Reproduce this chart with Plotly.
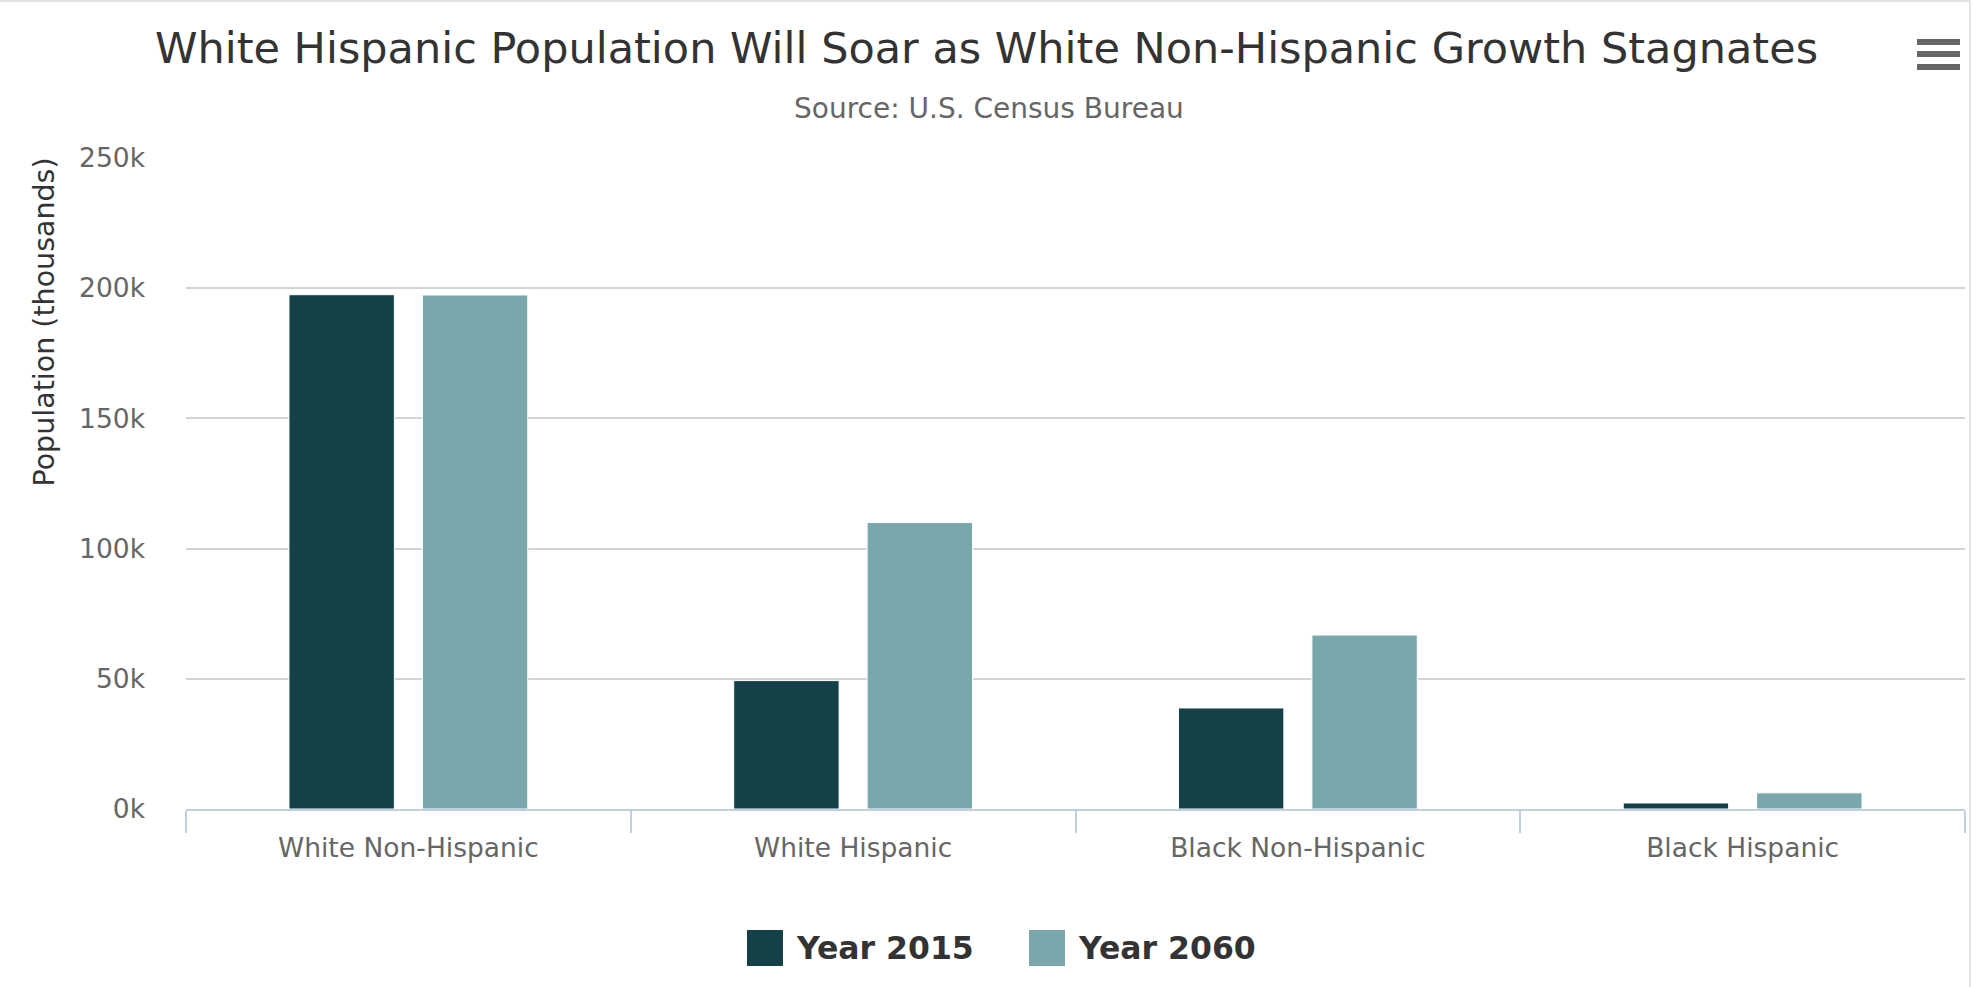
import plotly.graph_objects as go

# ---- data ----
categories = ["White Non-Hispanic", "White Hispanic", "Black Non-Hispanic", "Black Hispanic"]
series_names = ["Year 2015", "Year 2060"]
year_2015 = [197500, 49300, 38800, 2300]
year_2060 = [197400, 110000, 66800, 6200]
tick_values = [0, 50000, 100000, 150000, 200000, 250000]
tick_labels = ["0k", "50k", "100k", "150k", "200k", "250k"]

title_text = "White Hispanic Population Will Soar as White Non-Hispanic Growth Stagnates"
subtitle_text = "Source: U.S. Census Bureau"
yaxis_title = "Population (thousands)"

colors = ["#134147", "#79A8AC"]

W, H = 1973, 987
PL, PR, PT, PB = 186, 1965, 158, 809


def px_x(px):
    return (px - PL) / (PR - PL)


def px_y(py):
    return (PB - py) / (PB - PT)


FONT = "DejaVu Sans"

fig = go.Figure()
for name, vals, col in zip(series_names, [year_2015, year_2060], colors):
    fig.add_trace(go.Bar(
        x=categories, y=vals, name=name,
        marker=dict(color=col, line=dict(color="white", width=1)),
        showlegend=False,
    ))

shapes = []
annotations = []

# subtitle
annotations.append(dict(
    text=subtitle_text, xref="paper", yref="paper",
    x=px_x(989), y=px_y(108), xanchor="center", yanchor="middle",
    showarrow=False, font=dict(family=FONT, size=28, color="#666666"),
))
# y-axis title (aligned high)
annotations.append(dict(
    text=yaxis_title, xref="paper", yref="paper",
    x=px_x(44), y=px_y(156), xanchor="center", yanchor="top",
    textangle=-90, showarrow=False,
    font=dict(family=FONT, size=28.5, color="#333333"),
))

# custom legend
leg_items = [(747, 794), (1029, 1076)]
sq = 36
cy = 948
for (sx, tx), name, col in zip(leg_items, series_names, colors):
    shapes.append(dict(
        type="rect", xref="paper", yref="paper",
        x0=px_x(sx), x1=px_x(sx + sq), y0=px_y(cy - sq / 2), y1=px_y(cy + sq / 2),
        fillcolor=col, line=dict(width=0),
    ))
    annotations.append(dict(
        text="<b>" + name + "</b>", xref="paper", yref="paper",
        x=px_x(tx), y=px_y(cy), xanchor="left", yanchor="middle",
        showarrow=False, font=dict(family=FONT, size=31.5, color="#333333"),
    ))

# menu icon
for yy in [42, 54, 67]:
    shapes.append(dict(
        type="rect", xref="paper", yref="paper",
        x0=px_x(1917), x1=px_x(1960), y0=px_y(yy - 3), y1=px_y(yy + 3),
        fillcolor="#666666", line=dict(width=0),
    ))

# container border (top / right)
shapes.append(dict(type="line", xref="paper", yref="paper",
                   x0=px_x(0), x1=px_x(1970), y0=px_y(1), y1=px_y(1),
                   line=dict(color="#e4e4e4", width=2)))
shapes.append(dict(type="line", xref="paper", yref="paper",
                   x0=px_x(1970), x1=px_x(1970), y0=px_y(0), y1=px_y(987),
                   line=dict(color="#e4e4e4", width=2)))

fig.update_layout(
    width=W, height=H,
    margin=dict(l=PL, r=W - PR, t=PT, b=H - PB, pad=0),
    paper_bgcolor="white", plot_bgcolor="white",
    barmode="group", bargap=0.4, bargroupgap=0.21,
    title=dict(text=title_text, x=0.5, xref="container", xanchor="center",
               y=1 - 48 / H, yanchor="middle",
               font=dict(family=FONT, size=43, color="#333333")),
    font=dict(family=FONT),
    shapes=shapes,
    annotations=annotations,
    showlegend=False,
)

fig.update_xaxes(
    type="category", range=[-0.5, 3.5],
    showline=True, linecolor="#C0D0E0", linewidth=2,
    ticks="outside", tickson="boundaries", ticklen=22, tickwidth=2, tickcolor="#C0D0E0",
    showgrid=False, ticklabelstandoff=14,
    tickfont=dict(family=FONT, size=26.5, color="#666666"),
)
fig.update_yaxes(
    range=[0, 250000], tickvals=tick_values, ticktext=tick_labels,
    showgrid=True, gridcolor="#d4d4d4", gridwidth=2,
    zeroline=False, showline=False, ticks="",
    ticklabelstandoff=40,
    tickfont=dict(family=FONT, size=26.5, color="#666666"),
)

fig.write_html(
    "out.html",
    config={"displayModeBar": False},
    post_script="document.body.style.margin='0';document.body.style.overflow='hidden';",
)
